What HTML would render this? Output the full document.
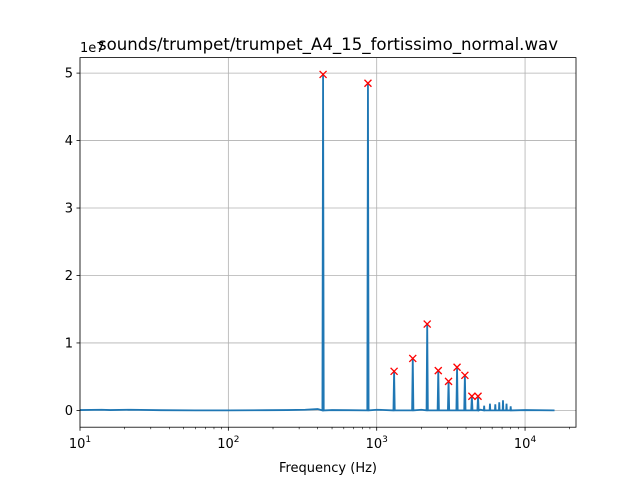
<!DOCTYPE html>
<html><head><meta charset="utf-8"><style>
body{margin:0;background:#fff;}
svg text{font-family:"DejaVu Sans","Liberation Sans",sans-serif;}
</style></head><body>
<svg id="chart" width="640" height="480" xmlns="http://www.w3.org/2000/svg">
<rect width="640" height="480" fill="#fff"/>
<g id="grid"></g>
<path id="line" fill="none" stroke="#1f77b4" stroke-width="1.8"/>
<g id="marks"></g>
<rect x="80" y="57.6" width="496" height="369.6" fill="none" stroke="#000" stroke-width="0.8"/>
<g id="ticks"></g>
<text x="328" y="50" font-size="16.6" text-anchor="middle">sounds/trumpet/trumpet_A4_15_fortissimo_normal.wav</text>
<text x="328" y="472" font-size="13" text-anchor="middle">Frequency (Hz)</text>
<text x="80" y="52" font-size="13">1e7</text>
</svg>
<script>
const peakFreqs=[435,873,1310,1750,2190,2600,3050,3480,3930,4380,4820];
const peakVals=[4.98e7,4.85e7,0.58e7,0.77e7,1.28e7,0.59e7,0.43e7,0.64e7,0.52e7,0.21e7,0.21e7];
const extraFreqs=[5300,5800,6300,6700,7100,7500,8000];
const extraVals=[0.07e7,0.1e7,0.09e7,0.12e7,0.15e7,0.1e7,0.06e7];
const noiseFreqs=[10,14,16,22,35,60,100,180,250,330,400,500,650,1000,2000,5000,10000,15800];
const noiseVals=[5e4,1e5,5e4,1e5,3e4,0,0,3e4,5e4,1e5,2e5,5e4,3e4,1e5,1e5,1e5,5e4,0];
const xTicks=[10,100,1000,10000];
const xTickLabels=["1","2","3","4"];
const yTicks=[0,1e7,2e7,3e7,4e7,5e7];
const yTickLabels=["0","1","2","3","4","5"];
const L=80,R=576,T=57.6,B=427.2,xmin=10,xmax=22050,ymin=-2.49e6,ymax=5.23e7;
const X=f=>L+(Math.log10(f)-Math.log10(xmin))/(Math.log10(xmax)-Math.log10(xmin))*(R-L);
const Y=v=>B-(v-ymin)/(ymax-ymin)*(B-T);
const NS="http://www.w3.org/2000/svg";
function mk(tag,attrs,parent){const e=document.createElementNS(NS,tag);for(const k in attrs)e.setAttribute(k,attrs[k]);document.getElementById(parent).appendChild(e);return e;}
let pts=[];
noiseFreqs.forEach((f,i)=>pts.push([f,noiseVals[i]]));
peakFreqs.forEach((f,i)=>{pts.push([f*0.99,0]);pts.push([f,peakVals[i]]);pts.push([f*1.01,0]);});
extraFreqs.forEach((f,i)=>{pts.push([f*0.995,0]);pts.push([f,extraVals[i]]);pts.push([f*1.005,0]);});
pts.sort((a,b)=>a[0]-b[0]);
document.getElementById('line').setAttribute('d',pts.map((p,i)=>(i?'L':'M')+X(p[0]).toFixed(2)+','+Y(p[1]).toFixed(2)).join(''));
peakFreqs.forEach((f,i)=>{
 const x=X(f),y=Y(peakVals[i]);
 const p=mk('path',{d:`M${x-3.5},${y-3.5}L${x+3.5},${y+3.5}M${x-3.5},${y+3.5}L${x+3.5},${y-3.5}`,stroke:'red','stroke-width':1.3},'marks');
 
 
});
xTicks.forEach((t,i)=>{
 const x=X(t);
 const g=mk('line',{x1:x,x2:x,y1:T,y2:B,stroke:'#b0b0b0','stroke-width':0.8},'grid');
 
 
 mk('line',{x1:x,x2:x,y1:B,y2:B+3.5,stroke:'#000','stroke-width':0.8},'ticks');
 const tx=mk('text',{x:x,y:B+21,'font-size':13,'text-anchor':'middle'},'ticks');
 
 
 const a=document.createElementNS(NS,'tspan');a.textContent='10';tx.appendChild(a);
 const b=document.createElementNS(NS,'tspan');b.setAttribute('dy','-6');b.setAttribute('font-size','9');b.textContent=xTickLabels[i];tx.appendChild(b);
 for(let k=2;k<10;k++){const m=t*k;if(m<xmax){const mx=X(m);mk('line',{x1:mx,x2:mx,y1:B,y2:B+2,stroke:'#000','stroke-width':0.6},'ticks');}}
});
yTicks.forEach((t,i)=>{
 const y=Y(t);
 const g=mk('line',{x1:L,x2:R,y1:y,y2:y,stroke:'#b0b0b0','stroke-width':0.8},'grid');
 
 
 mk('line',{x1:L-3.5,x2:L,y1:y,y2:y,stroke:'#000','stroke-width':0.8},'ticks');
 const tx=mk('text',{x:L-7,y:y+4.5,'font-size':13,'text-anchor':'end'},'ticks');
 
 
 tx.textContent=yTickLabels[i];
});
</script>
</body></html>
